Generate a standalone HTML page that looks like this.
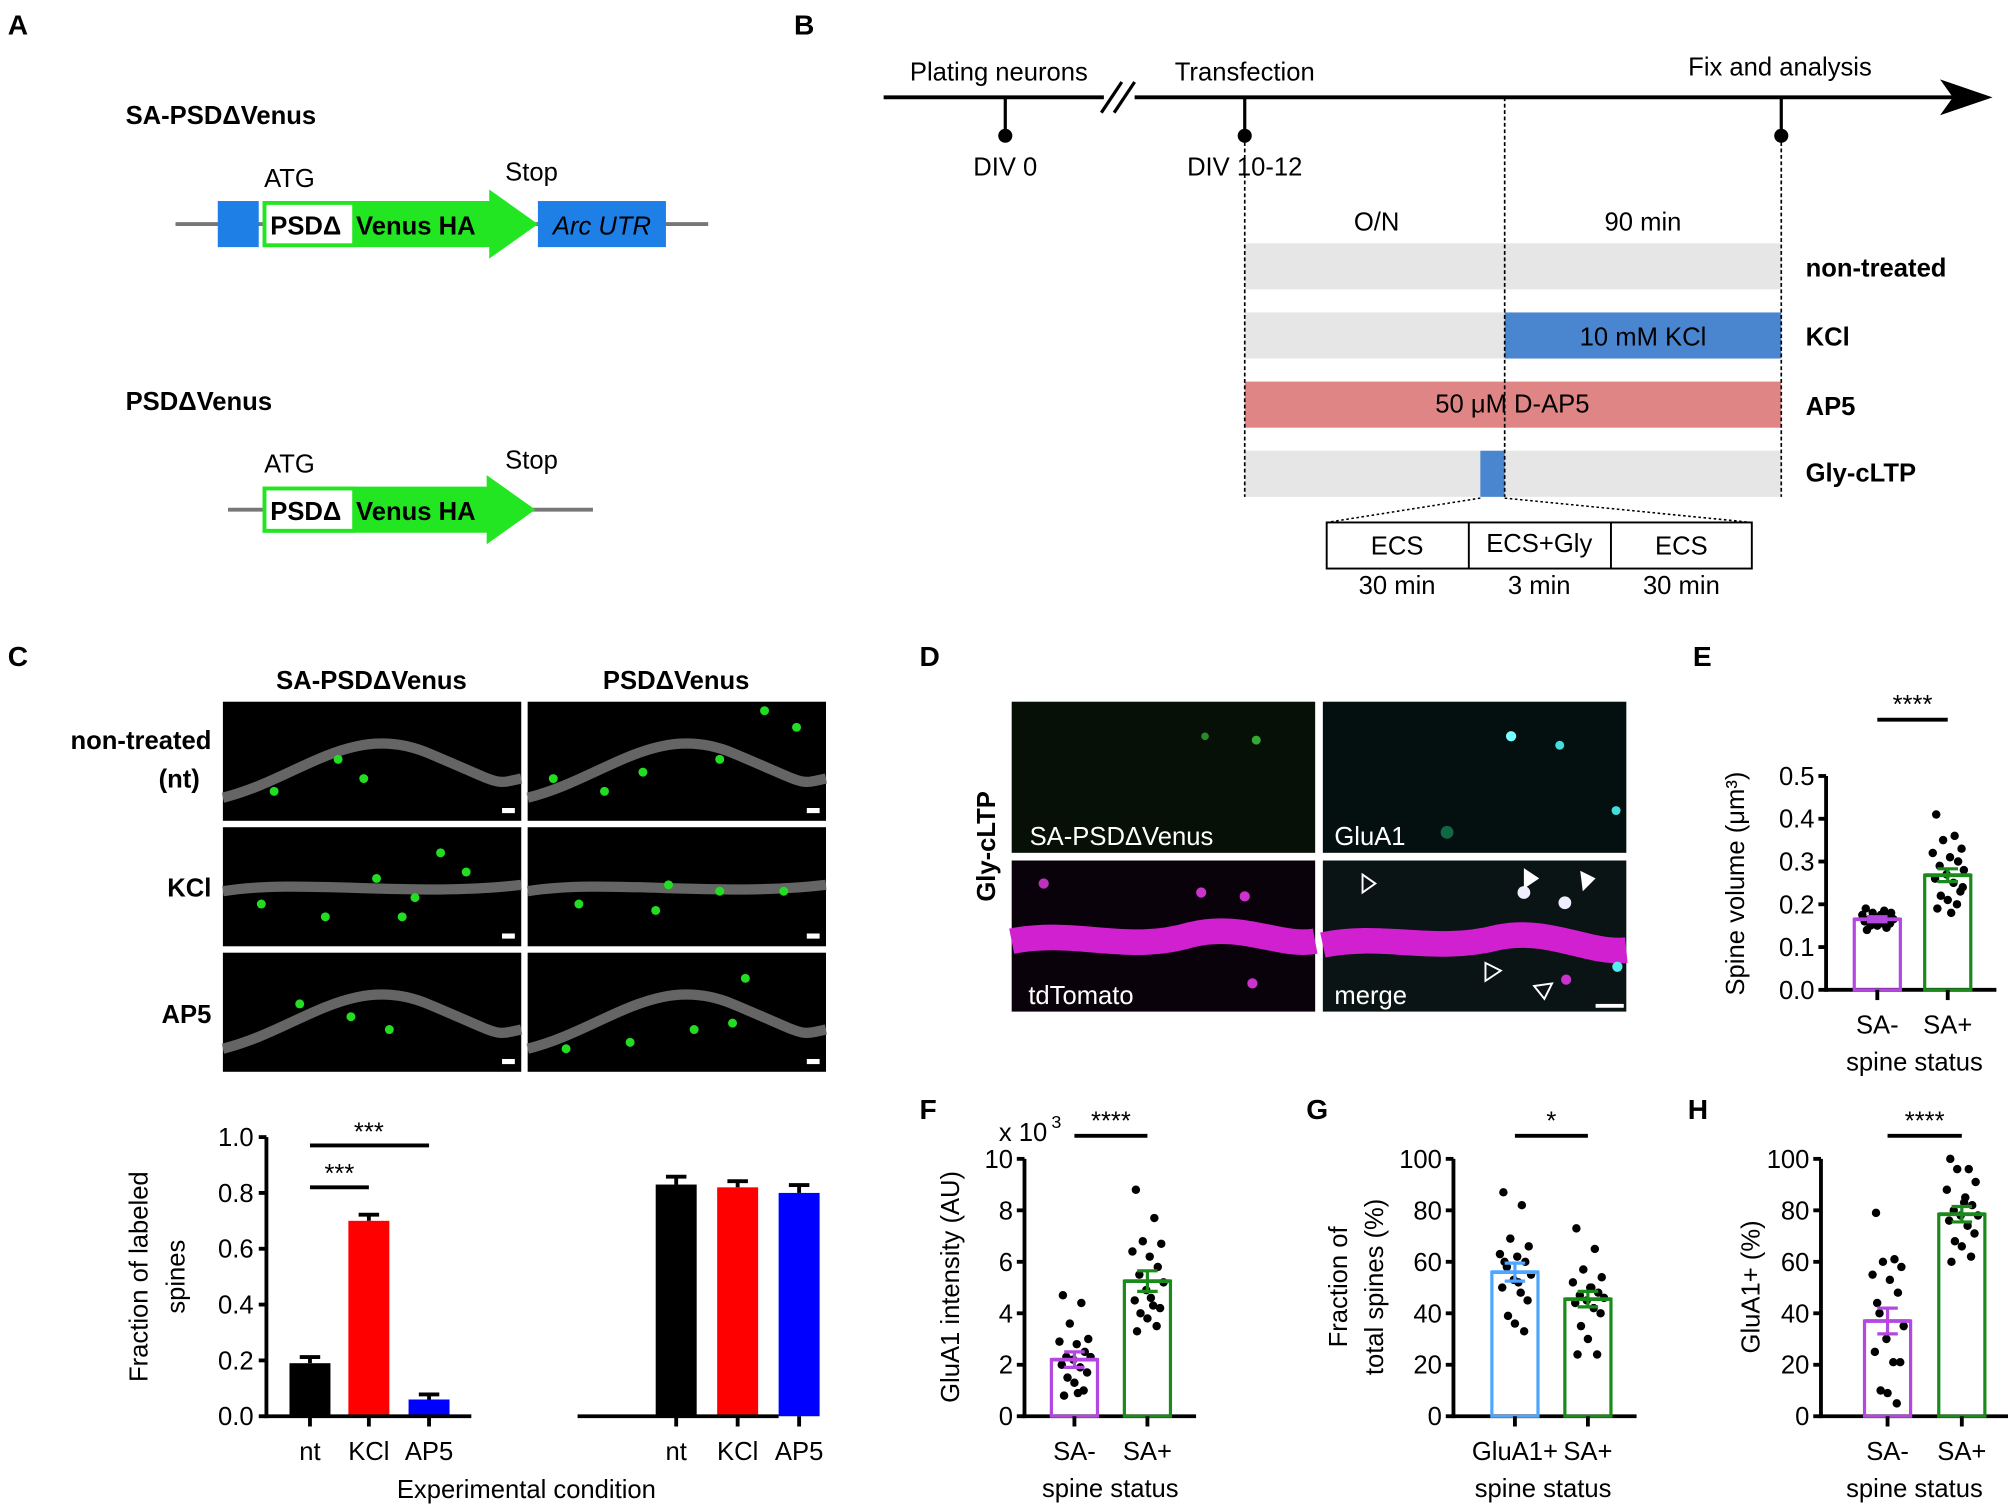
<!DOCTYPE html>
<html><head><meta charset="utf-8">
<style>
html,body{margin:0;padding:0;background:#fff;}
svg{display:block;font-family:"Liberation Sans",Arial,sans-serif;}
text{fill:#000;}
.b{font-weight:bold;}
</style></head>
<body>
<svg id="fig" width="2008" height="1511" viewBox="0 0 1568 1180" xmlns="http://www.w3.org/2000/svg">
<!-- Panel A -->
<g>
<text x="6" y="27" font-size="22" class="b">A</text>
<text x="98" y="97" font-size="20" class="b">SA-PSDΔVenus</text>
<line x1="137" y1="175" x2="553" y2="175" stroke="#777" stroke-width="3"/>
<rect x="170" y="157" width="32" height="36" fill="#1e7fe6"/>
<polygon points="205,157 382,157 382,148 420,175 382,202 382,193 205,193" fill="#22e622"/>
<rect x="206.5" y="158.5" width="70" height="33" fill="#fff" stroke="#22e622" stroke-width="3"/>
<text x="211" y="183" font-size="20" class="b">PSDΔ</text>
<text x="278" y="183" font-size="20" class="b">Venus HA</text>
<rect x="420" y="157" width="100" height="36" fill="#1e7fe6"/>
<text x="470" y="183" font-size="20" font-style="italic" text-anchor="middle">Arc UTR</text>
<text x="226" y="146" font-size="20" text-anchor="middle">ATG</text>
<text x="415" y="141" font-size="20" text-anchor="middle">Stop</text>
<text x="98" y="320" font-size="20" class="b">PSDΔVenus</text>
<line x1="178" y1="398" x2="463" y2="398" stroke="#777" stroke-width="3"/>
<polygon points="205,380 380,380 380,371 418,398 380,425 380,416 205,416" fill="#22e622"/>
<rect x="206.5" y="381.5" width="70" height="33" fill="#fff" stroke="#22e622" stroke-width="3"/>
<text x="211" y="406" font-size="20" class="b">PSDΔ</text>
<text x="278" y="406" font-size="20" class="b">Venus HA</text>
<text x="226" y="369" font-size="20" text-anchor="middle">ATG</text>
<text x="415" y="366" font-size="20" text-anchor="middle">Stop</text>
</g>
<!-- Panel B -->
<g>
<text x="620" y="27" font-size="22" class="b">B</text>
<line x1="690" y1="76" x2="1525" y2="76" stroke="#000" stroke-width="3"/>
<polygon points="1515,62 1556,76 1515,90 1525,76" fill="#000"/>
<rect x="862" y="66" width="24" height="20" fill="#fff"/>
<line x1="860" y1="88" x2="876" y2="64" stroke="#000" stroke-width="2.5"/>
<line x1="870" y1="88" x2="886" y2="64" stroke="#000" stroke-width="2.5"/>
<line x1="785" y1="76" x2="785" y2="106" stroke="#000" stroke-width="2.5"/><circle cx="785" cy="106" r="5.5"/>
<line x1="972" y1="76" x2="972" y2="106" stroke="#000" stroke-width="2.5"/><circle cx="972" cy="106" r="5.5"/>
<line x1="1391" y1="76" x2="1391" y2="106" stroke="#000" stroke-width="2.5"/><circle cx="1391" cy="106" r="5.5"/>
<text x="780" y="63" font-size="20" text-anchor="middle">Plating neurons</text>
<text x="972" y="63" font-size="20" text-anchor="middle">Transfection</text>
<text x="1390" y="59" font-size="20" text-anchor="middle">Fix and analysis</text>
<text x="785" y="137" font-size="20" text-anchor="middle">DIV 0</text>
<text x="972" y="137" font-size="20" text-anchor="middle">DIV 10-12</text>
<text x="1075" y="180" font-size="20" text-anchor="middle">O/N</text>
<text x="1283" y="180" font-size="20" text-anchor="middle">90 min</text>
<rect x="972" y="190" width="419" height="36" fill="#e6e6e6"/>
<rect x="972" y="244" width="203" height="36" fill="#e6e6e6"/>
<rect x="1175" y="244" width="216" height="36" fill="#4a86cf"/>
<text x="1283" y="270" font-size="20" text-anchor="middle">10 mM KCl</text>
<rect x="972" y="298" width="419" height="36" fill="#e08585"/>
<text x="1181" y="322" font-size="20" text-anchor="middle">50 μM D-AP5</text>
<rect x="972" y="352" width="419" height="36" fill="#e6e6e6"/>
<rect x="1156" y="352" width="19" height="36" fill="#4a86cf"/>
<line x1="972" y1="106" x2="972" y2="388" stroke="#000" stroke-width="1.3" stroke-dasharray="3,2"/>
<line x1="1175" y1="76" x2="1175" y2="388" stroke="#000" stroke-width="1.3" stroke-dasharray="3,2"/>
<line x1="1391" y1="106" x2="1391" y2="388" stroke="#000" stroke-width="1.3" stroke-dasharray="3,2"/>
<text x="1410" y="216" font-size="20" class="b">non-treated</text>
<text x="1410" y="270" font-size="20" class="b">KCl</text>
<text x="1410" y="324" font-size="20" class="b">AP5</text>
<text x="1410" y="376" font-size="20" class="b">Gly-cLTP</text>
<line x1="1156" y1="389" x2="1036" y2="408" stroke="#000" stroke-width="1.2" stroke-dasharray="2,2"/>
<line x1="1175" y1="389" x2="1368" y2="408" stroke="#000" stroke-width="1.2" stroke-dasharray="2,2"/>
<rect x="1036" y="408" width="332" height="36" fill="#fff" stroke="#000" stroke-width="1.5"/>
<line x1="1147" y1="408" x2="1147" y2="444" stroke="#000" stroke-width="1.5"/>
<line x1="1258" y1="408" x2="1258" y2="444" stroke="#000" stroke-width="1.5"/>
<text x="1091" y="433" font-size="20" text-anchor="middle">ECS</text>
<text x="1202" y="431" font-size="20" text-anchor="middle">ECS+Gly</text>
<text x="1313" y="433" font-size="20" text-anchor="middle">ECS</text>
<text x="1091" y="464" font-size="20" text-anchor="middle">30 min</text>
<text x="1202" y="464" font-size="20" text-anchor="middle">3 min</text>
<text x="1313" y="464" font-size="20" text-anchor="middle">30 min</text>
</g>
<!-- Panel C images -->
<g>
<text x="6" y="520" font-size="22" class="b">C</text>
<text x="290" y="538" font-size="20" class="b" text-anchor="middle">SA-PSDΔVenus</text>
<text x="528" y="538" font-size="20" class="b" text-anchor="middle">PSDΔVenus</text>
<text x="165" y="585" font-size="20" class="b" text-anchor="end">non-treated</text>
<text x="156" y="615" font-size="20" class="b" text-anchor="end">(nt)</text>
<text x="165" y="700" font-size="20" class="b" text-anchor="end">KCl</text>
<text x="165" y="799" font-size="20" class="b" text-anchor="end">AP5</text>
<g id="cimgs"></g>
</g>
<!-- Panel D -->
<g>
<text x="718" y="520" font-size="22" class="b">D</text>
<text transform="translate(777,661) rotate(-90)" font-size="20" class="b" text-anchor="middle">Gly-cLTP</text>
<rect x="790" y="548" width="237" height="118" fill="#061006"/>
<circle cx="941" cy="575" r="3" fill="#2a8a2a"/><circle cx="981" cy="578" r="3.5" fill="#33aa33"/>
<rect x="1033" y="548" width="237" height="118" fill="#03100f"/>
<circle cx="1180" cy="575" r="4" fill="#7ff"/><circle cx="1218" cy="582" r="3.5" fill="#4dd"/><circle cx="1262" cy="633" r="3.5" fill="#4dd"/><circle cx="1130" cy="650" r="5" fill="#164"/>
<rect x="790" y="672" width="237" height="118" fill="#0a020a"/>
<path d="M790,735 C840,725 880,745 930,730 C970,720 1000,740 1027,735" stroke="#d020d0" stroke-width="20" fill="none"/>
<circle cx="815" cy="690" r="4" fill="#b3b"/><circle cx="938" cy="697" r="4" fill="#c3c"/><circle cx="972" cy="700" r="4" fill="#c3c"/><circle cx="978" cy="768" r="4" fill="#c3c"/>
<rect x="1033" y="672" width="237" height="118" fill="#0b1414"/>
<path d="M1033,738 C1080,728 1120,745 1170,732 C1210,724 1240,745 1270,742" stroke="#d020d0" stroke-width="20" fill="none"/>
<circle cx="1190" cy="697" r="5" fill="#eef"/><circle cx="1222" cy="705" r="5" fill="#eef"/><circle cx="1263" cy="755" r="4" fill="#5ee"/><circle cx="1223" cy="765" r="4" fill="#c3c"/>
<polygon points="1190,678 1202,686 1190,694" fill="#fff"/><polygon points="1234,680 1246,686 1236,696" fill="#fff"/>
<polygon points="1064,683 1074,690 1064,697" fill="none" stroke="#fff" stroke-width="1.5"/>
<polygon points="1160,752 1172,758 1160,766" fill="none" stroke="#fff" stroke-width="1.5"/>
<polygon points="1198,770 1206,780 1212,768" fill="none" stroke="#fff" stroke-width="1.5"/>
<rect x="1246" y="784" width="22" height="3" fill="#fff"/>
<text x="804" y="660" font-size="20" style="fill:#fff">SA-PSDΔVenus</text>
<text x="1042" y="660" font-size="20" style="fill:#fff">GluA1</text>
<text x="803" y="784" font-size="20" style="fill:#fff">tdTomato</text>
<text x="1042" y="784" font-size="20" style="fill:#fff">merge</text>
</g>
<text x="1322" y="520" font-size="22" class="b">E</text>
<text x="718" y="874" font-size="22" class="b">F</text>
<text x="1020" y="874" font-size="22" class="b">G</text>
<text x="1318" y="874" font-size="22" class="b">H</text>
<g id="charts"></g>
</svg>
<script>
// ---------- Panel C bar chart data ----------
const cCategories = ["nt", "KCl", "AP5"];
const cSaValues = [0.19, 0.70, 0.06];
const cSaErrors = [0.022, 0.022, 0.018];
const cPsdValues = [0.83, 0.82, 0.80];
const cPsdErrors = [0.028, 0.022, 0.028];
const cTicks = ["0.0", "0.2", "0.4", "0.6", "0.8", "1.0"];
const cColors = ["#000000", "#ff0000", "#0000ff"];
// ---------- Panel E ----------
const eCategories = ["SA-", "SA+"];
const eMeans = [0.165, 0.268];
const eErrors = [0.006, 0.015];
const eSaMinus = [0.19,0.185,0.18,0.18,0.175,0.17,0.17,0.165,0.165,0.16,0.16,0.155,0.155,0.15,0.15,0.145,0.14,0.175];
const eSaPlus = [0.41,0.36,0.35,0.33,0.32,0.31,0.30,0.29,0.28,0.27,0.26,0.25,0.23,0.22,0.21,0.20,0.19,0.18,0.24];
const eTicks = ["0.0","0.1","0.2","0.3","0.4","0.5"];
// ---------- Panel F ----------
const fCategories = ["SA-", "SA+"];
const fMeans = [2.2, 5.25];
const fErrors = [0.3, 0.4];
const fSaMinus = [4.7,4.4,3.6,3.0,2.9,2.8,2.5,2.3,2.3,2.2,2.0,1.9,1.7,1.5,1.3,1.0,0.8,0.9];
const fSaPlus = [8.8,7.7,6.8,6.7,6.4,6.2,5.8,5.5,5.2,4.9,4.5,4.3,4.2,4.0,3.8,3.5,3.3,4.6];
const fTicks = ["0","2","4","6","8","10"];
// ---------- Panel G ----------
const gCategories = ["GluA1+", "SA+"];
const gMeans = [56, 45.5];
const gErrors = [3.5, 3];
const gGluA1 = [87,82,69,66,63,62,60,58,55,53,50,48,45,39,36,33,60,52];
const gSaPlus = [73,65,57,54,52,50,48,47,46,45,44,42,40,35,30,24,24,50];
const gTicks = ["0","20","40","60","80","100"];
// ---------- Panel H ----------
const hCategories = ["SA-", "SA+"];
const hMeans = [37, 78.5];
const hErrors = [5, 3];
const hSaMinus = [79,61,60,58,55,53,48,40,35,30,25,21,21,10,9,5,44];
const hSaPlus = [100,96,96,91,88,83,82,80,78,78,76,74,71,68,66,62,60,85];
const hTicks = ["0","20","40","60","80","100"];

const NS = "http://www.w3.org/2000/svg";
const root = document.getElementById("charts");
function mk(tag, attrs, parent, txt) {
  const e = document.createElementNS(NS, tag);
  for (const k in attrs) e.setAttribute(k, attrs[k]);
  if (txt !== undefined) e.textContent = txt;
  (parent || root).appendChild(e);
  return e;
}
const jitter = [-10,6,-4,12,-13,2,9,-7,14,-1,-11,5,11,-6,0,8,-9,3,13];

// ---- Panel C chart ----
(function(){
  const g = mk("g", {});
  
  
  const y0 = 1106, y1 = 888, yMax = 1.0;
  const Y = v => y0 - (v / yMax) * (y0 - y1);
  mk("line", {x1:208, y1:y1, x2:208, y2:y0+1.5, stroke:"#000","stroke-width":3}, g);
  cTicks.forEach((t) => {
    const v = parseFloat(t);
    mk("line", {x1:202, y1:Y(v), x2:208, y2:Y(v), stroke:"#000","stroke-width":3}, g);
    const lb = mk("text", {x:198, y:Y(v)+7, "font-size":20, "text-anchor":"end"}, g, t);
    
    
  });
  const groups = [{vals:cSaValues, errs:cSaErrors, x0:208, x1:368, centers:[242,288,335], name:"sa-psd"},
                  {vals:cPsdValues, errs:cPsdErrors, x0:451, x1:608, centers:[528,576,624], name:"psd"}];
  groups.forEach(gr => {
    gr.vals.forEach((v,i) => {
      const cx = gr.centers[i];
      const top = Y(v);
      mk("line", {x1:cx, y1:top, x2:cx, y2:Y(v+gr.errs[i]), stroke:"#000","stroke-width":3}, g);
      mk("line", {x1:cx-8, y1:Y(v+gr.errs[i]), x2:cx+8, y2:Y(v+gr.errs[i]), stroke:"#000","stroke-width":3}, g);
      const r = mk("rect", {x:cx-16, y:top, width:32, height:y0-top, fill:cColors[i]}, g);
      
      
      mk("line", {x1:cx, y1:y0, x2:cx, y2:y0+8, stroke:"#000","stroke-width":3}, g);
      const lb = mk("text", {x:cx, y:1140, "font-size":20, "text-anchor":"middle"}, g, cCategories[i]);
      
      
    });
    mk("line", {x1:gr.x0, y1:y0, x2:gr.x1, y2:y0, stroke:"#000","stroke-width":3}, g);
  });
  mk("line", {x1:242, y1:Y(0.97), x2:335, y2:Y(0.97), stroke:"#000","stroke-width":3}, g);
  mk("text", {x:288, y:Y(0.97)-4, "font-size":20, "text-anchor":"middle"}, g, "***");
  mk("line", {x1:242, y1:Y(0.82), x2:288, y2:Y(0.82), stroke:"#000","stroke-width":3}, g);
  mk("text", {x:265, y:Y(0.82)-4, "font-size":20, "text-anchor":"middle"}, g, "***");
  const yt = mk("text", {transform:"translate(115,997) rotate(-90)", "font-size":20, "text-anchor":"middle"}, g, "Fraction of labeled");
  
  
  mk("text", {transform:"translate(144,997) rotate(-90)", "font-size":20, "text-anchor":"middle"}, g, "spines");
  const xt = mk("text", {x:411, y:1170, "font-size":20, "text-anchor":"middle"}, g, "Experimental condition");
  
  
})();

// ---- scatter-bar panels ----
function scatterPanel(p) {
  const g = mk("g", {});
  
  
  const Y = v => p.y0 - (v / p.max) * (p.y0 - p.y1);
  mk("line", {x1:p.ax, y1:p.y1, x2:p.ax, y2:p.y0+1.5, stroke:"#000","stroke-width":3}, g);
  mk("line", {x1:p.ax, y1:p.y0, x2:p.c[1]+38, y2:p.y0, stroke:"#000","stroke-width":3}, g);
  p.ticks.forEach(t => {
    const v = parseFloat(t);
    mk("line", {x1:p.ax-6, y1:Y(v), x2:p.ax, y2:Y(v), stroke:"#000","stroke-width":3}, g);
    const lb = mk("text", {x:p.ax-9, y:Y(v)+7, "font-size":20, "text-anchor":"end"}, g, t);
    
    
  });
  p.series.forEach((s, i) => {
    const cx = p.c[i];
    const m = p.means[i], e = p.errs[i];
    const r = mk("rect", {x:cx-18, y:Y(m), width:36, height:p.y0-Y(m), fill:"none", stroke:p.colors[i], "stroke-width":2.5}, g);
    
    
    s.forEach((v, k) => {
      const d = mk("circle", {cx:cx + jitter[k % jitter.length]*0.9, cy:Y(v), r:3.3, fill:"#000"}, g);
      
      
    });
    mk("line", {x1:cx, y1:Y(m-e), x2:cx, y2:Y(m+e), stroke:p.colors[i], "stroke-width":2.5}, g);
    mk("line", {x1:cx-8, y1:Y(m-e), x2:cx+8, y2:Y(m-e), stroke:p.colors[i], "stroke-width":2.5}, g);
    mk("line", {x1:cx-8, y1:Y(m+e), x2:cx+8, y2:Y(m+e), stroke:p.colors[i], "stroke-width":2.5}, g);
    mk("line", {x1:cx-18, y1:Y(m), x2:cx+18, y2:Y(m), stroke:p.colors[i], "stroke-width":3}, g);
    mk("line", {x1:cx, y1:p.y0, x2:cx, y2:p.y0+8, stroke:"#000","stroke-width":3}, g);
    const lb = mk("text", {x:cx, y:p.y0+34, "font-size":20, "text-anchor":"middle"}, g, p.cats[i]);
    
    
  });
  mk("line", {x1:p.c[0], y1:p.sigY, x2:p.c[1], y2:p.sigY, stroke:"#000","stroke-width":3}, g);
  mk("text", {x:(p.c[0]+p.c[1])/2, y:p.sigY-5, "font-size":20, "text-anchor":"middle"}, g, p.sig);
  const xt = mk("text", {x:p.xtX, y:p.y0+63, "font-size":20, "text-anchor":"middle"}, g, "spine status");
  
  
  p.ytitle.forEach((t, k) => {
    const yt = mk("text", {transform:"translate(" + (p.ytX + k*28) + "," + p.ytY + ") rotate(-90)", "font-size":20, "text-anchor":"middle"}, g, t);
    
    
  });
  return g;
}
const purple = "#b347e0", green = "#1a8a1a", blue = "#4da6ff";
scatterPanel({name:"panel-e-spine-volume", ax:1426, y0:773, y1:606, max:0.5, ticks:eTicks, c:[1466,1521],
  means:eMeans, errs:eErrors, series:[eSaMinus, eSaPlus], cats:eCategories, colors:[purple, green],
  sigY:562, sig:"****", xtX:1495, ytitle:["Spine volume (μm³)"], ytX:1362, ytY:690});
scatterPanel({name:"panel-f-glua1-intensity", ax:800, y0:1106, y1:905, max:10, ticks:fTicks, c:[839,896],
  means:fMeans, errs:fErrors, series:[fSaMinus, fSaPlus], cats:fCategories, colors:[purple, green],
  sigY:887, sig:"****", xtX:867, ytitle:["GluA1 intensity (AU)"], ytX:749, ytY:1005});
mk("text", {x:780, y:891, "font-size":20}, root, "x 10");
mk("text", {x:821, y:881, "font-size":14}, root, "3");
scatterPanel({name:"panel-g-fraction-total", ax:1135, y0:1106, y1:905, max:100, ticks:gTicks, c:[1183,1240],
  means:gMeans, errs:gErrors, series:[gGluA1, gSaPlus], cats:gCategories, colors:[blue, green],
  sigY:887, sig:"*", xtX:1205, ytitle:["Fraction of","total spines (%)"], ytX:1052, ytY:1005});
scatterPanel({name:"panel-h-glua1-positive", ax:1422, y0:1106, y1:905, max:100, ticks:hTicks, c:[1474,1532],
  means:hMeans, errs:hErrors, series:[hSaMinus, hSaPlus], cats:hCategories, colors:[purple, green],
  sigY:887, sig:"****", xtX:1495, ytitle:["GluA1+ (%)"], ytX:1374, ytY:1005});

// ---- panel C micrographs ----
(function(){
  const g = document.getElementById("cimgs");
  const cols = [174, 412], rows = [548, 646, 744];
  const dotsets = [
    [[[40,70],[90,45],[110,60]], [[20,60],[60,70],[90,55],[150,45],[210,20],[185,7]]],
    [[[30,60],[80,70],[120,40],[150,55],[170,20],[190,35],[140,70]], [[40,60],[110,45],[150,50],[200,50],[100,65]]],
    [[[60,40],[100,50],[130,60]], [[30,75],[80,70],[130,60],[170,20],[160,55]]]
  ];
  rows.forEach((ry, ri) => cols.forEach((cx, ci) => {
    mk("rect", {x:cx, y:ry, width:233, height:93, fill:"#000"}, g);
    const path = ri % 2 ? `M${cx},${ry+50} C${cx+60},${ry+40} ${cx+150},${ry+55} ${cx+233},${ry+45}`
                        : `M${cx},${ry+75} C${cx+60},${ry+60} ${cx+100},${ry+15} ${cx+160},${ry+40} S${cx+210},${ry+65} ${cx+233},${ry+60}`;
    mk("path", {d:path, stroke:"#777", "stroke-width":8, fill:"none", opacity:0.85}, g);
    dotsets[ri][ci].forEach(d => mk("circle", {cx:cx+d[0], cy:ry+d[1], r:3.5, fill:"#22dd22"}, g));
    mk("rect", {x:cx+218, y:ry+83, width:10, height:4, fill:"#fff"}, g);
  }));
})();
</script>
</body></html>
